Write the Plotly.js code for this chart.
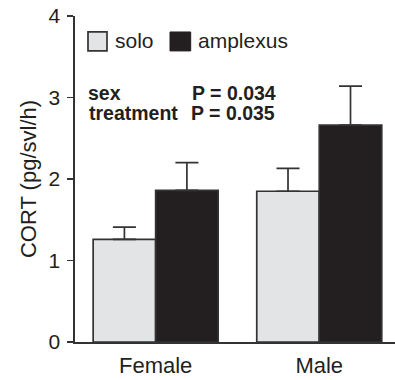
<!DOCTYPE html>
<html>
<head>
<meta charset="utf-8">
<script src="https://cdn.plot.ly/plotly-3.0.1.min.js"></script>
<style>html,body{margin:0;padding:0;background:#fff;}#chart{width:395px;height:380px;}</style>
</head>
<body>
<div id="chart"></div>
<script>
// Data
const categories = ["Female", "Male"];
const soloValues = [1.26, 1.85];
const soloErrors = [0.15, 0.28];
const amplexusValues = [1.86, 2.66];
const amplexusErrors = [0.34, 0.48];
const seriesNames = ["solo", "amplexus"];
const yTicks = [0, 1, 2, 3, 4];
const statLabels = ["sex", "treatment"];
const statPValues = ["P = 0.034", "P = 0.035"];

const FONT = "Liberation Sans, Arial, Helvetica, sans-serif";
const INK = "#231f20";
const SOLO = "#e3e4e6";

// plot area in pixels
const L = 75, R = 395, T = 15.7, B = 342.3;
const W = 395, H = 380;
const px = x => (x - L) / (R - L);
const py = y => (B - y) / (B - T);

const errStyle = (arr) => ({
  type: "data", array: arr, arrayminus: arr.map(() => 0), symmetric: false,
  visible: true, color: "#333", thickness: 1.7, width: 11.5
});

const traces = [
  {
    type: "bar", name: seriesNames[0], x: categories, y: soloValues,
    marker: {color: SOLO, line: {color: "#333", width: 1.7}},
    error_y: errStyle(soloErrors), showlegend: false, hoverinfo: "none"
  },
  {
    type: "bar", name: seriesNames[1], x: categories, y: amplexusValues,
    marker: {color: INK, line: {color: "#333", width: 1.7}},
    error_y: errStyle(amplexusErrors), showlegend: false, hoverinfo: "none"
  }
];

const shapes = [
  {type: "rect", xref: "paper", yref: "paper", x0: px(88), x1: px(107), y0: py(50.7), y1: py(31.7),
   fillcolor: SOLO, line: {color: "#333", width: 1.7}},
  {type: "rect", xref: "paper", yref: "paper", x0: px(170), x1: px(190.7), y0: py(50.7), y1: py(31.7),
   fillcolor: INK, line: {color: INK, width: 1}}
];

const annotations = [
  {xref: "paper", yref: "paper", x: px(113), y: py(40.5), xanchor: "left", yanchor: "middle",
   text: seriesNames[0], showarrow: false, font: {family: FONT, size: 21, color: INK}},
  {xref: "paper", yref: "paper", x: px(196), y: py(40.5), xanchor: "left", yanchor: "middle",
   text: seriesNames[1], showarrow: false, font: {family: FONT, size: 21, color: INK}},
  {xref: "paper", yref: "paper", x: px(86), y: py(92.5), xanchor: "left", yanchor: "middle",
   text: "<b>" + statLabels[0] + "</b>", showarrow: false, font: {family: FONT, size: 19.5, color: INK}},
  {xref: "paper", yref: "paper", x: px(190), y: py(92.5), xanchor: "left", yanchor: "middle",
   text: "<b>" + statPValues[0] + "</b>", showarrow: false, font: {family: FONT, size: 19.5, color: INK}},
  {xref: "paper", yref: "paper", x: px(87), y: py(112.5), xanchor: "left", yanchor: "middle",
   text: "<b>" + statLabels[1] + "</b>", showarrow: false, font: {family: FONT, size: 19.5, color: INK}},
  {xref: "paper", yref: "paper", x: px(189), y: py(112.5), xanchor: "left", yanchor: "middle",
   text: "<b>" + statPValues[1] + "</b>", showarrow: false, font: {family: FONT, size: 19.5, color: INK}}
];

const layout = {
  width: W, height: H,
  margin: {l: L, r: W - R, t: T, b: H - B, pad: 0},
  paper_bgcolor: "#fff", plot_bgcolor: "#fff",
  barmode: "group", bargap: 0.236, bargroupgap: 0,
  showlegend: false,
  font: {family: FONT, color: INK},
  xaxis: {
    type: "category", range: [-0.493, 1.463], showline: true, linecolor: "#333", linewidth: 1.7,
    ticks: "", showgrid: false, zeroline: false, fixedrange: true,
    tickfont: {family: FONT, size: 22, color: INK}, ticklabelstandoff: 3
  },
  yaxis: {
    range: [0, 4], tickvals: yTicks, ticktext: yTicks.map(String),
    showline: true, linecolor: "#333", linewidth: 1.7,
    ticks: "outside", ticklen: 6, tickwidth: 1.7, tickcolor: "#333",
    showgrid: false, zeroline: false, fixedrange: true,
    tickfont: {family: FONT, size: 21, color: INK}, ticklabelstandoff: 3,
    title: {text: "CORT (pg/svl/h)", font: {family: FONT, size: 22, color: INK}, standoff: 6}
  },
  shapes: shapes,
  annotations: annotations
};

Plotly.newPlot("chart", traces, layout, {displayModeBar: false, staticPlot: true});
</script>
</body>
</html>
